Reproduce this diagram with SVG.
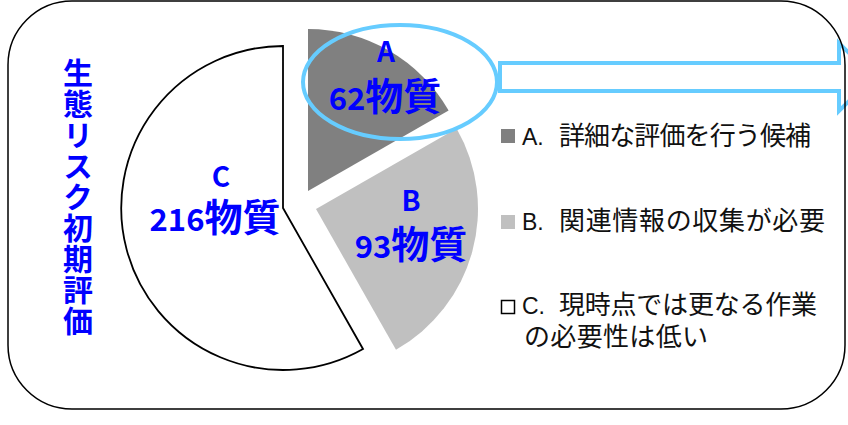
<svg xmlns="http://www.w3.org/2000/svg" width="848" height="425" viewBox="0 0 848 425">
<style>
.lbl{font-family:"Noto Sans CJK JP","Liberation Sans",sans-serif;font-weight:bold;fill:#0000ff;text-anchor:middle}
.let{font-size:28px}
.num{font-size:31px}
.cjk{font-size:38px}
.leg{font-family:"Noto Sans CJK JP",sans-serif;font-size:26px;fill:#111}
.legl{font-family:"Liberation Sans","Noto Sans CJK JP",sans-serif;font-size:23px}
.hl{fill:none;stroke:#66ccff;stroke-width:4}
</style>
<rect width="848" height="425" fill="#fff"/>
<g id="title">
<text x="78" y="58" style="font-family:'Noto Sans CJK JP',sans-serif;font-weight:bold;font-size:30px;fill:#0000ff;writing-mode:vertical-rl;letter-spacing:1px">生態リスク初期評価</text>
</g>
<g id="sliceC">
<path d="M283,208 L363,349 A162,162 0 1 1 283,46 Z" fill="#fff" stroke="#000" stroke-width="1.8" stroke-linejoin="miter"/>
<text class="lbl"><tspan class="let" x="221" y="187">C</tspan><tspan x="215" y="231"><tspan class="num">216</tspan><tspan class="cjk">物質</tspan></tspan></text>
</g>
<g id="sliceA">
<path d="M308,191 L308,29 A162,162 0 0 1 448.6,110.5 Z" fill="#808080"/>
</g>
<g id="sliceB">
<path d="M316,209 L456.6,128.5 A162,162 0 0 1 396,349.8 Z" fill="#c0c0c0"/>
<text class="lbl"><tspan class="let" x="411" y="211">B</tspan><tspan x="411" y="258"><tspan class="num">93</tspan><tspan class="cjk">物質</tspan></tspan></text>
</g>
<g id="highlight">
<ellipse class="hl" cx="400" cy="82" rx="97" ry="57"/>
<text class="lbl"><tspan class="let" x="386" y="62">A</tspan><tspan x="385" y="110"><tspan class="num">62</tspan><tspan class="cjk">物質</tspan></tspan></text>
</g>
<g id="connectors">
<polygon class="hl" points="500,63 839,63 839,43 873,77 839,111 839,91 500,91"/>
</g>
<g id="frame">
<rect x="8" y="1" width="837" height="408" rx="64" ry="64" fill="none" stroke="#000" stroke-width="1.5"/>
</g>
<g id="legend">
<rect x="501" y="129" width="14" height="14" fill="#808080"/>
<text class="leg" y="145"><tspan class="legl" x="522">A.</tspan><tspan x="559" textLength="252" lengthAdjust="spacing">詳細な評価を行う候補</tspan></text>
<rect x="501" y="215" width="14" height="14" fill="#c0c0c0"/>
<text class="leg" y="230"><tspan class="legl" x="522">B.</tspan><tspan x="559" textLength="266" lengthAdjust="spacing">関連情報の収集が必要</tspan></text>
<rect x="501.5" y="300.5" width="13" height="13" fill="#fff" stroke="#000" stroke-width="1.5"/>
<text class="leg"><tspan class="legl" x="522" y="314">C.</tspan><tspan x="559" y="314" textLength="258" lengthAdjust="spacing">現時点では更なる作業</tspan><tspan x="524" y="346" textLength="184" lengthAdjust="spacing">の必要性は低い</tspan></text>
</g>
</svg>
